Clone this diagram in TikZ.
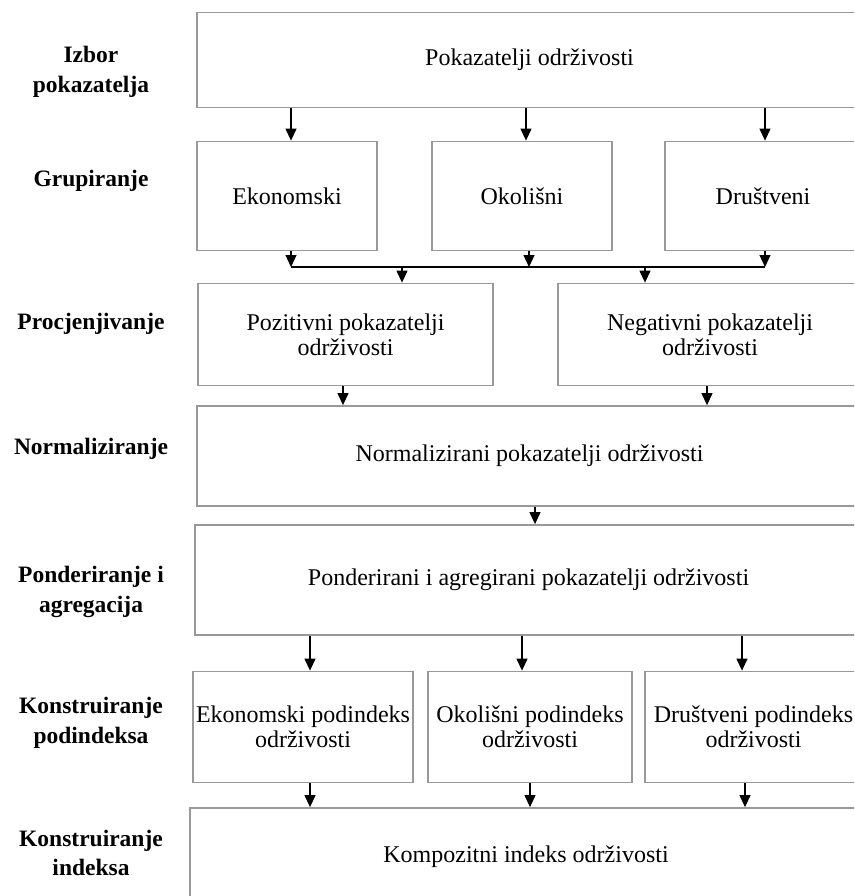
\documentclass[tikz,border=0pt]{standalone}
\usepackage{fontspec}
\setmainfont{Liberation Serif}
\usetikzlibrary{arrows.meta,calc}
\begin{document}
\begin{tikzpicture}[x=1pt,y=1pt,
  box/.style={draw=black!40,line width=1.8pt,rectangle,inner sep=2pt,align=center,
    font=\fontsize{24}{25}\selectfont},
  lab/.style={align=center,font=\fontsize{23.5}{29.5}\selectfont\bfseries},
  arr/.style={line width=1.2pt,-{Triangle[length=12pt,width=11pt]}},
  ln/.style={line width=1.2pt}]
\useasboundingbox (0,0) rectangle (854,-896);
\clip (0,0) rectangle (854,-896);
% left labels
\node[lab] (l1) at (91,-72) {Izbor\\pokazatelja};
\node[lab] (l2) at (91,-181) {Grupiranje};
\node[lab] (l3) at (91,-324) {Procjenjivanje};
\node[lab] (l4) at (91,-449) {Normaliziranje};
\node[lab] (l5) at (91,-592) {Ponderiranje i\\agregacija};
\node[lab] (l6) at (91,-723) {Konstruiranje\\podindeksa};
\node[lab] (l7) at (91,-853) {Konstruiranje\\indeksa};
% boxes
\node[box,minimum width=665pt,minimum height=95pt] (b1) at (529.5,-60) {Pokazatelji održivosti};
\node[box,minimum width=180pt,minimum height=109pt] (e) at (287,-196) {Ekonomski};
\node[box,minimum width=180pt,minimum height=109pt] (o) at (522,-196) {Okolišni};
\node[box,minimum width=196pt,minimum height=109pt] (d) at (763,-196) {Društveni};
\node[box,minimum width=295pt,minimum height=102pt] (p) at (345.5,-334.5) {Pozitivni pokazatelji\\održivosti};
\node[box,minimum width=304pt,minimum height=102pt] (n) at (710,-334.5) {Negativni pokazatelji\\održivosti};
\node[box,minimum width=665pt,minimum height=100pt] (nz) at (529.5,-456) {Normalizirani pokazatelji održivosti};
\node[box,minimum width=667pt,minimum height=110pt] (pa) at (528.5,-580) {Ponderirani i agregirani pokazatelji održivosti};
\node[box,minimum width=220pt,minimum height=111pt] (es) at (303,-727) {Ekonomski podindeks\\održivosti};
\node[box,minimum width=204pt,minimum height=111pt] (os) at (530,-727) {Okolišni podindeks\\održivosti};
\node[box,minimum width=217pt,minimum height=111pt] (ds) at (753.5,-727) {Društveni podindeks\\održivosti};
\node[box,minimum width=672pt,minimum height=98pt] (k) at (526,-857) {Kompozitni indeks održivosti};
% x positions
\coordinate (x1) at (291,0);
\coordinate (x2) at (526,0);
\coordinate (x3) at (765,0);
\coordinate (xe) at (291,0);
\coordinate (xo) at (529,0);
\coordinate (xd) at (765,0);
\coordinate (jl) at (291,-267);
\coordinate (jr) at (765,-267);
\coordinate (xp) at (402,0);
\coordinate (xn) at (645,0);
\coordinate (xa) at (343,0);
\coordinate (xb) at (707,0);
\coordinate (xc) at (535,0);
\coordinate (y1) at (310,0);
\coordinate (y2) at (522,0);
\coordinate (y3) at (742,0);
\coordinate (z1) at (310,0);
\coordinate (z2) at (530,0);
\coordinate (z3) at (745,0);
% connectors
\draw[arr] (b1.south -| x1) -- (e.north -| x1);
\draw[arr] (b1.south -| x2) -- (o.north -| x2);
\draw[arr] (b1.south -| x3) -- (d.north -| x3);
\draw[ln] (jl) -- (jr);
\draw[arr] (e.south -| xe) -- (jl);
\draw[arr] (o.south -| xo) -- (jl -| xo);
\draw[arr] (d.south -| xd) -- (jr);
\draw[arr] (jl -| xp) -- (p.north -| xp);
\draw[arr] (jl -| xn) -- (n.north -| xn);
\draw[arr] (p.south -| xa) -- (nz.north -| xa);
\draw[arr] (n.south -| xb) -- (nz.north -| xb);
\draw[arr] (nz.south -| xc) -- (pa.north -| xc);
\draw[arr] (pa.south -| y1) -- (es.north -| y1);
\draw[arr] (pa.south -| y2) -- (os.north -| y2);
\draw[arr] (pa.south -| y3) -- (ds.north -| y3);
\draw[arr] (es.south -| z1) -- (k.north -| z1);
\draw[arr] (os.south -| z2) -- (k.north -| z2);
\draw[arr] (ds.south -| z3) -- (k.north -| z3);
\end{tikzpicture}
\end{document}
